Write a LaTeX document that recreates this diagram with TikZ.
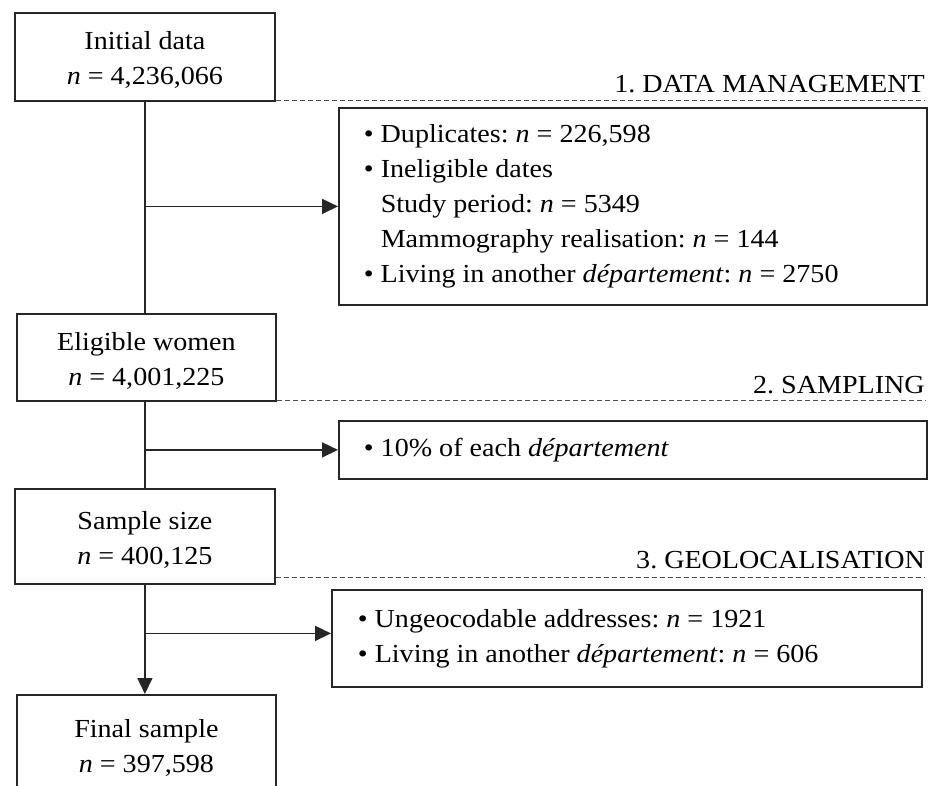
\documentclass[tikz,border=0pt]{standalone}
\usepackage{fontspec}
\setmainfont{Liberation Serif}[FakeStretch=1.08]
\usetikzlibrary{arrows.meta}
\tikzset{
 box/.style={draw=black!85, line width=1.8pt, inner sep=0pt, align=center, anchor=north west, font=\fontsize{26}{35}\selectfont\frenchspacing},
 rbox/.style={draw=black!85, line width=1.8pt, inner xsep=25pt, inner ysep=0pt, align=flush left, anchor=north west, font=\fontsize{26}{35}\selectfont\frenchspacing},
 conn/.style={draw=black!85, line width=1.6pt},
 arr/.style={conn, -{Triangle[length=16pt,width=15pt]}},
 sep/.style={draw=black!70, line width=1pt, dash pattern=on 5pt off 3pt},
 lab/.style={font=\fontsize{26}{30}\selectfont\frenchspacing, anchor=base east, inner sep=0pt}
}
\newcommand{\bul}{\textbullet\ }
\newcommand{\ind}{\phantom{\textbullet\ }}
\newcommand{\tallfirst}[1]{\rule{0pt}{#1}}
\begin{document}
\begin{tikzpicture}[x=1pt,y=-1pt]
\useasboundingbox (0,0) rectangle (937,785);
% left boxes
\node[box, minimum width=260pt, minimum height=88pt] (init) at (14,12) {\tallfirst{25pt}Initial data\\\textit{n} = 4,236,066};
\node[box, minimum width=259pt, minimum height=87pt] (elig) at (16,313) {\tallfirst{25pt}Eligible women\\\textit{n} = 4,001,225};
\node[box, minimum width=260pt, minimum height=95pt] (samp) at (14,488) {\tallfirst{25pt}Sample size\\\textit{n} = 400,125};
\node[box, minimum width=259pt, minimum height=100pt] (fin) at (16,694) {\tallfirst{25pt}Final sample\\\textit{n} = 397,598};
% right boxes
\node[rbox, minimum width=588pt, minimum height=197pt, text width=538pt] (dm) at (338,107)
 {\bul Duplicates: \textit{n} = 226,598\\
  \bul Ineligible dates\\
  \ind Study period: \textit{n} = 5349\\
  \ind Mammography realisation: \textit{n} = 144\\
  \bul Living in another \textit{département}: \textit{n} = 2750};
\node[rbox, minimum width=588pt, minimum height=58pt, text width=538pt] (sa) at (338,420)
 {\bul 10\% of each \textit{département}};
\node[rbox, inner xsep=26pt, minimum width=590pt, minimum height=97pt, text width=538pt] (geo) at (331,589)
 {\bul Ungeocodable addresses: \textit{n} = 1921\\
  \bul Living in another \textit{département}: \textit{n} = 606};
% section labels
\node[lab] (l1) at (925,92) {1. DATA MANAGEMENT};
\node[lab] (l2) at (925,393) {2. SAMPLING};
\node[lab] (l3) at (925,568) {3. GEOLOCALISATION};
% dashed separators
\draw[sep] ([yshift=1pt]init.south east) -- ([yshift=1pt]init.south east -| l1.east);
\draw[sep] ([yshift=1pt]elig.south east) -- ([yshift=1pt]elig.south east -| l2.east);
\draw[sep] ([yshift=7pt]samp.south east) -- ([yshift=7pt]samp.south east -| l3.east);
% connectors
\draw[conn] (init.south) -- (init.south |- elig.north);
\draw[arr] (init.south |- dm.west) -- (dm.west);
\draw[conn] (init.south |- elig.south) -- (init.south |- samp.north);
\draw[arr] (init.south |- sa.west) -- (sa.west);
\draw[arr] (samp.south) -- (samp.south |- fin.north);
\draw[arr] ([yshift=5pt]samp.south |- geo.west) -- ([yshift=5pt]geo.west);
\end{tikzpicture}
\end{document}
